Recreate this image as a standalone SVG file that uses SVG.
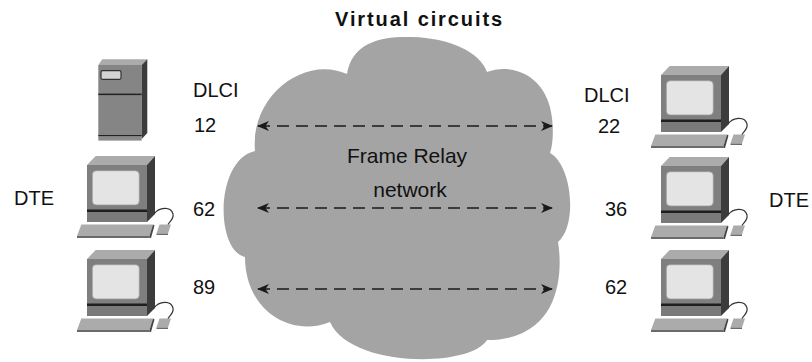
<svg xmlns="http://www.w3.org/2000/svg" xmlns:xlink="http://www.w3.org/1999/xlink" width="812" height="362" viewBox="0 0 812 362">
<style>
.t{font-family:"Liberation Sans",Arial,sans-serif;font-size:20px;fill:#111}
.c{font-family:"Liberation Sans",Arial,sans-serif;font-size:21px;fill:#111;text-anchor:middle}
.title{font-family:"Liberation Sans",Arial,sans-serif;font-size:20px;font-weight:bold;letter-spacing:1.9px;fill:#111}
.vc{fill:none;stroke:#1a1a1a;stroke-width:1.6;stroke-dasharray:12 7;marker-start:url(#ah);marker-end:url(#ah)}
</style>
<defs>
<marker id="ah" viewBox="0 0 12 10" refX="11" refY="5" markerWidth="12" markerHeight="10" markerUnits="userSpaceOnUse" orient="auto-start-reverse">
<path d="M0,0 L12,5 L0,10 L3.5,5 Z" fill="#1a1a1a"/>
</marker>
<g id="pc">
<polygon points="0,9 8.7,0 68,0 60,9" fill="#ababab"/>
<rect x="0" y="9" width="60" height="45" fill="#7f7f7f"/>
<polygon points="60,9 68,0 68,58 60,66" fill="#3c3c3c"/>
<rect x="5.3" y="14.7" width="47" height="34.3" rx="4" fill="#e4e4e4" stroke="#9a9a9a" stroke-width="0.8"/>
<rect x="0" y="53.5" width="60" height="2.5" fill="#1e1e1e"/>
<rect x="0" y="56" width="60" height="10" fill="#7a7a7a"/>
<polygon points="-10,80 -5.7,68.5 66,68.5 62.5,80" fill="#ababab"/>
<polygon points="-10,80 62.5,80 62.5,82 -10,82" fill="#6a6a6a"/>
<polygon points="62.5,80 66,68.5 67.5,69.5 64,82 62.5,82" fill="#444"/>
<polygon points="69.5,77.5 72.5,68.5 84,68.5 81,77.5" fill="#ababab"/>
<polygon points="69.5,77.5 81,77.5 81,79 69.5,79" fill="#6a6a6a"/>
<path d="M67,58 C72,51 84,50 86,58 C87,63 83,65 81,68.5" fill="none" stroke="#333" stroke-width="1.2"/>
</g>
</defs>
<rect width="812" height="362" fill="#fff"/>

<g id="cloud">
<path d="M347,74 C352,42 382,36 412,37 C450,38 480,52 487,72 C515,62 548,78 552,118 C554,135 552,148 550,153 C572,165 578,225 558,242 C562,265 565,340 487,340 C470,368 350,368 330,322 C290,338 245,310 245,257 C215,250 215,160 255,151 C250,95 305,55 347,74 Z" fill="#a4a4a4"/>
<text class="c" x="407" y="163">Frame Relay</text>
<text class="c" x="410" y="197">network</text>
</g>

<g id="server">
<polygon points="98.3,65 102.3,59.3 147.3,59.3 141.7,65" fill="#ababab"/>
<rect x="98.3" y="65" width="43.4" height="71" fill="#858585"/>
<polygon points="141.7,65 147.3,59.3 147.3,133 141.7,139" fill="#3c3c3c"/>
<rect x="98.3" y="93.6" width="43.4" height="1.5" fill="#222"/>
<rect x="98.3" y="135" width="43.4" height="1.6" fill="#222"/>
<rect x="98.3" y="136.6" width="43.4" height="4" fill="#8a8a8a"/>
<rect x="101" y="70.7" width="20" height="8.6" rx="1.5" fill="#d4d4d4" stroke="#333" stroke-width="1.2"/>
</g>

<g id="dte-left-1"><use xlink:href="#pc" x="87" y="156"/></g>
<g id="dte-left-2"><use xlink:href="#pc" x="87" y="250"/></g>
<g id="dte-right-0"><use xlink:href="#pc" x="661" y="66"/></g>
<g id="dte-right-1"><use xlink:href="#pc" x="661" y="157"/></g>
<g id="dte-right-2"><use xlink:href="#pc" x="661" y="250"/></g>

<g id="connectors">
<line class="vc" x1="258" y1="126" x2="552" y2="126"/>
<line class="vc" x1="258" y1="208" x2="552" y2="208"/>
<line class="vc" x1="258" y1="289" x2="552" y2="289"/>
</g>

<g id="labels">
<text class="title" x="335" y="26">Virtual circuits</text>
<text class="t" x="193" y="97">DLCI</text>
<text class="t" x="194" y="132">12</text>
<text class="t" x="193" y="216">62</text>
<text class="t" x="193" y="294">89</text>
<text class="t" x="14" y="205">DTE</text>
<text class="t" x="584" y="102">DLCI</text>
<text class="t" x="598" y="133">22</text>
<text class="t" x="605" y="216">36</text>
<text class="t" x="605" y="294">62</text>
<text class="t" x="769" y="207">DTE</text>
</g>
</svg>
